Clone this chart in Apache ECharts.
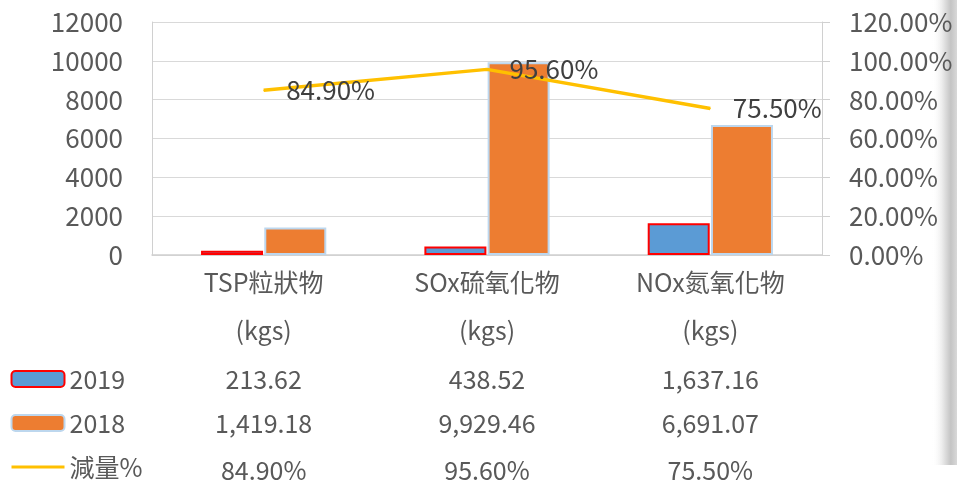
<!DOCTYPE html>
<html>
<head>
<meta charset="utf-8">
<script src="https://cdn.jsdelivr.net/npm/echarts@6/dist/echarts.min.js"></script>
<style>
  html, body { margin: 0; padding: 0; background: #fff; }
  #chart { width: 957px; height: 484px; }
</style>
</head>
<body>
<div id="chart"></div>
<script>
// 資料
var categories = ['TSP粒狀物', 'SOx硫氧化物', 'NOx氮氧化物'];
var units = ['(kgs)', '(kgs)', '(kgs)'];
var v2019 = [213.62, 438.52, 1637.16];
var v2018 = [1419.18, 9929.46, 6691.07];
var reduction = [84.9, 95.6, 75.5]; // 減量 %

var font = "'Noto Sans CJK TC', 'Noto Sans', sans-serif";
var grey = '#595959';

var myCharts = echarts.init(document.getElementById('chart'));

function fmtNum(v) {
  return v.toLocaleString('en-US', { minimumFractionDigits: 2, maximumFractionDigits: 2 });
}
function fmtPct(v) {
  return v.toFixed(2) + '%';
}

// 資料表的每一列用一條隱藏的 x 軸畫出來
function tableRow(margin, formatter) {
  return {
    type: 'category',
    position: 'bottom',
    gridIndex: 0,
    data: categories,
    axisLine: { show: false },
    axisTick: { show: false },
    splitLine: { show: false },
    axisLabel: {
      margin: margin,
      verticalAlign: 'middle',
      color: grey,
      fontSize: 25,
      fontFamily: font,
      interval: 0,
      formatter: formatter
    }
  };
}

var option = {
  animation: false,
  textStyle: { fontFamily: font },
  grid: { left: 152, right: 135, top: 22, bottom: 229 },
  legend: {
    orient: 'vertical',
    left: 10,
    top: 364,
    padding: 0,
    itemWidth: 53,
    itemHeight: 16,
    itemGap: 14,
    textStyle: { color: grey, fontSize: 25, lineHeight: 30, fontFamily: font },
    data: [
      { name: '2019' },
      { name: '2018' },
      { name: '減量%', itemStyle: { opacity: 0 }, lineStyle: { width: 3 } }
    ]
  },
  xAxis: [
    {
      type: 'category',
      position: 'bottom',
      data: categories,
      axisLine: { lineStyle: { color: '#d0d0d0', width: 1.5 } },
      axisTick: { show: false },
      axisLabel: {
        margin: 27,
        verticalAlign: 'middle',
        color: grey,
        fontSize: 25,
        fontFamily: font,
        interval: 0
      }
    },
    tableRow(75, function (v, i) { return units[i]; }),
    tableRow(124, function (v, i) { return fmtNum(v2019[i]); }),
    tableRow(168, function (v, i) { return fmtNum(v2018[i]); }),
    tableRow(215, function (v, i) { return fmtPct(reduction[i]); })
  ],
  yAxis: [
    {
      type: 'value',
      min: 0,
      max: 12000,
      interval: 2000,
      axisLine: { show: true, lineStyle: { color: '#d0d0d0' } },
      axisTick: { show: false },
      splitLine: { lineStyle: { color: '#d9d9d9' } },
      axisLabel: {
        margin: 29,
        color: grey,
        fontSize: 26,
        fontFamily: font,
        formatter: function (v) { return String(v); }
      }
    },
    {
      type: 'value',
      position: 'right',
      min: 0,
      max: 1.2,
      interval: 0.2,
      axisLine: { show: true, lineStyle: { color: '#d0d0d0' } },
      axisTick: { show: true, length: 8, lineStyle: { color: '#d0d0d0' } },
      splitLine: { show: false },
      axisLabel: {
        margin: 27,
        color: grey,
        fontSize: 26,
        fontFamily: font,
        formatter: function (v) { return (v * 100).toFixed(2) + '%'; }
      }
    }
  ],
  series: [
    {
      name: '2019',
      type: 'bar',
      data: v2019,
      barWidth: 62,
      barGap: '2%',
      itemStyle: { color: '#5b9bd5', borderColor: '#ff0000', borderWidth: 2 }
    },
    {
      name: '2018',
      type: 'bar',
      data: v2018,
      barWidth: 62,
      itemStyle: { color: '#ed7d31', borderColor: '#bdd7ee', borderWidth: 2 }
    },
    {
      name: '減量%',
      type: 'line',
      yAxisIndex: 1,
      data: reduction.map(function (v) { return v / 100; }),
      symbol: 'circle',
      symbolSize: 1,
      showSymbol: true,
      z: 5,
      lineStyle: { color: '#ffc000', width: 3.5 },
      itemStyle: { color: '#ffc000' },
      label: {
        show: true,
        position: 'right',
        distance: 22,
        color: '#404040',
        fontSize: 26,
        fontFamily: font,
        formatter: function (p) { return fmtPct(p.value * 100); }
      }
    }
  ],
  graphic: [
    {
      type: 'rect',
      left: 932,
      top: 0,
      shape: { width: 25, height: 465 },
      silent: true,
      style: {
        fill: new echarts.graphic.LinearGradient(0, 0, 1, 0, [
          { offset: 0, color: 'rgba(255,255,255,0)' },
          { offset: 0.4, color: '#ececec' },
          { offset: 0.75, color: '#c4c4c4' },
          { offset: 1, color: '#d8d8d8' }
        ])
      }
    }
  ]
};

myCharts.setOption(option);
</script>
</body>
</html>
